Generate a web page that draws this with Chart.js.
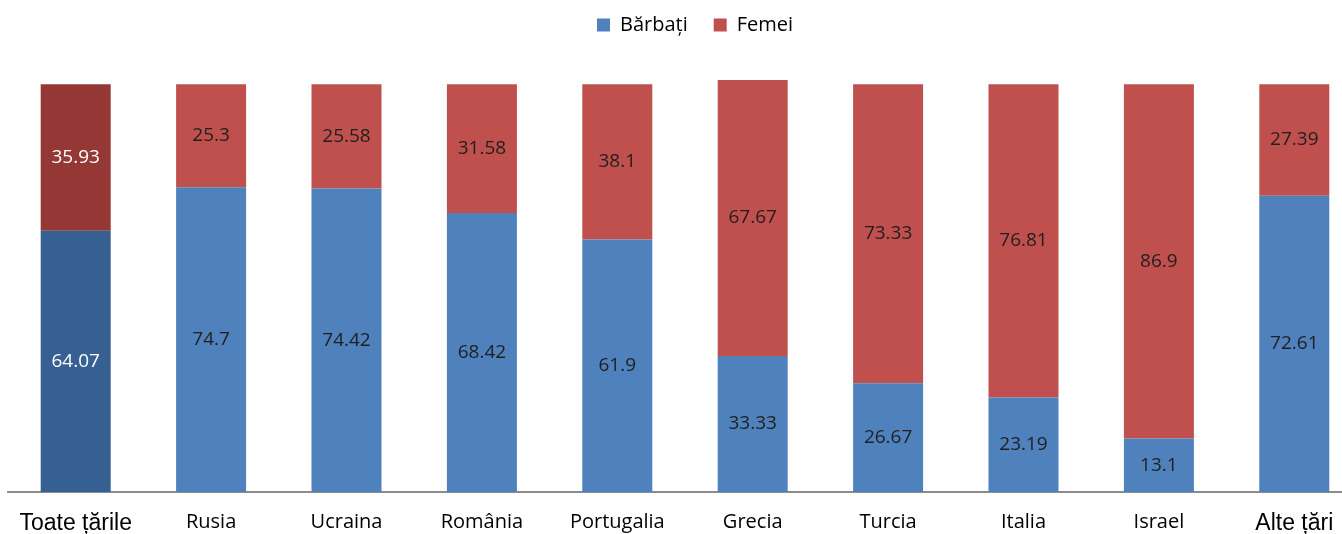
<!DOCTYPE html>
<html>
<head>
<meta charset="utf-8">
<script src="https://cdn.jsdelivr.net/npm/chart.js@4"></script>
<style>
    html, body { margin: 0; padding: 0; background: #fff; overflow: hidden; }
    #wrap { width: 1362px; height: 534px; }
</style>
</head>
<body>
<div id="wrap"><canvas id="chart" width="1362" height="534"></canvas></div>
<script>
const categories = ['Toate țările', 'Rusia', 'Ucraina', 'România', 'Portugalia', 'Grecia', 'Turcia', 'Italia', 'Israel', 'Alte țări'];
const barbati = [64.07, 74.7, 74.42, 68.42, 61.9, 33.33, 26.67, 23.19, 13.1, 72.61];
const femei = [35.93, 25.3, 25.58, 31.58, 38.1, 67.67, 73.33, 76.81, 86.9, 27.39];

// prima coloana (total) are nuante mai inchise
const blueColors = categories.map((c, i) => i === 0 ? '#376092' : '#4F81BD');
const redColors = categories.map((c, i) => i === 0 ? '#953735' : '#C0504D');

const PLOT_TOP = 76;      // unde ajunge maximul axei y
const AXIS_Y = 492;       // linia axei x
const CANVAS_H = 534;

// etichete in mijlocul fiecarui segment
const valueLabels = {
    id: 'valueLabels',
    afterInit(chart) {
        const legend = chart.legend;
        const fit = legend.fit;
        legend.fit = function () {
            fit.call(this);
            this.height = PLOT_TOP;
        };
        const draw = legend.draw;
        legend.draw = function () {
            chart.ctx.save();
            chart.ctx.translate(10, -11);
            draw.call(this);
            chart.ctx.restore();
        };
    },
    afterDatasetsDraw(chart) {
        const ctx = chart.ctx;
        ctx.save();
        ctx.font = '19px "Open Sans"';
        ctx.textAlign = 'center';
        ctx.textBaseline = 'middle';
        chart.data.datasets.forEach((ds, di) => {
            chart.getDatasetMeta(di).data.forEach((bar, i) => {
                const p = bar.getProps(['x', 'y', 'base'], true);
                ctx.fillStyle = i === 0 ? '#ffffff' : '#1f1f1f';
                ctx.fillText(String(ds.data[i]), p.x, (p.y + p.base) / 2);
            });
        });
        ctx.restore();
    }
};

const chart = new Chart(document.getElementById('chart').getContext('2d'), {
    type: 'bar',
    data: {
        labels: categories,
        datasets: [{
            label: 'Bărbați',
            data: barbati,
            backgroundColor: blueColors,
            borderWidth: 0
        }, {
            label: 'Femei',
            data: femei,
            backgroundColor: redColors,
            borderWidth: 0
        }]
    },
    options: {
        responsive: false,
        animation: false,
        categoryPercentage: 1,
        barPercentage: 0.517,
        layout: { padding: { left: 8, right: 0, top: 0, bottom: 0 } },
        scales: {
            x: {
                stacked: true,
                grid: { display: false, drawTicks: false },
                border: { display: true, color: '#8c8c8c', width: 2 },
                afterFit: s => { s.height = CANVAS_H - AXIS_Y; },
                ticks: {
                    color: '#000',
                    padding: 18,
                    font: c => (c.index === 0 || c.index === 9)
                        ? { family: '"Liberation Sans"', size: 23 }
                        : { family: '"Open Sans"', size: 20 }
                }
            },
            y: {
                stacked: true,
                display: false,
                min: 0,
                max: 102
            }
        },
        plugins: {
            legend: {
                labels: {
                    color: '#1a1a1a',
                    boxWidth: 13,
                    boxHeight: 13,
                    padding: 26,
                    font: { family: '"Open Sans"', size: 20 },
                    generateLabels: ch => ch.data.datasets.map((ds, i) => ({
                        text: ds.label,
                        fillStyle: i === 0 ? '#4F81BD' : '#C0504D',
                        strokeStyle: 'transparent',
                        lineWidth: 0,
                        datasetIndex: i
                    }))
                }
            },
            tooltip: { enabled: false }
        }
    },
    plugins: [valueLabels]
});
</script>
</body>
</html>
